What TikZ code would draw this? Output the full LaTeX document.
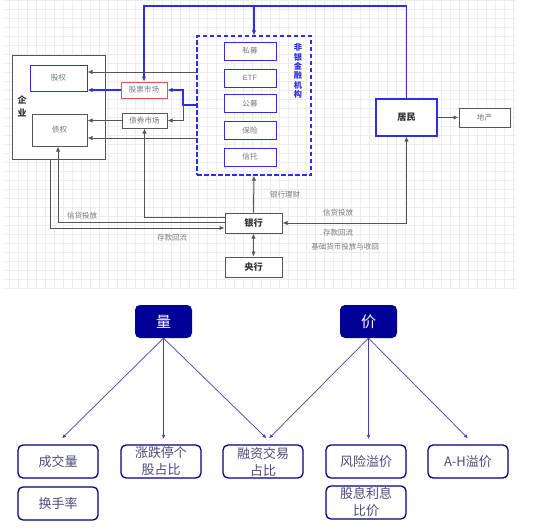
\documentclass[tikz,border=0pt]{standalone}
\usepackage{fontspec}
\setmainfont{Liberation Sans}
\newfontfamily\cjk{Noto Sans CJK SC}
\usetikzlibrary{arrows.meta}
\definecolor{bl}{RGB}{45,45,235}
\definecolor{gl}{RGB}{85,85,85}
\definecolor{navy}{RGB}{0,0,150}
\definecolor{txtg}{RGB}{120,120,120}
\definecolor{redb}{RGB}{238,80,80}
\definecolor{gridc}{RGB}{236,236,236}
\definecolor{leafc}{RGB}{75,75,120}
\tikzset{
 gbox/.style={draw=gl, line width=1pt, fill=white, inner sep=0pt, font=\cjk\fontsize{7.6}{8}\selectfont, text=txtg},
 bbox/.style={gbox, draw=bl},
 gline/.style={draw=gl, line width=1pt, -{Latex[length=5pt,width=4.5pt]}},
 dline/.style={draw=gl, line width=1pt, {Latex[length=5pt,width=4.5pt]}-{Latex[length=5pt,width=4.5pt]}},
 bline/.style={draw=bl, line width=1.1pt, -{Latex[length=5pt,width=4.5pt]}},
 lbl/.style={font=\cjk\fontsize{7.5}{8}\selectfont, text=txtg, inner sep=0pt},
 boldbox/.style={font=\cjk\bfseries\fontsize{9.2}{10}\selectfont, text=black!80},
 topnode/.style={fill=navy, rounded corners=5pt, minimum width=57pt, minimum height=33pt, inner sep=0pt, text=white, font=\cjk\fontsize{15}{16}\selectfont},
 leaf/.style={draw=navy!85!black, line width=1.3pt, rounded corners=5pt, fill=white, minimum width=80pt, minimum height=33pt, inner sep=0pt, text=leafc, align=center, font=\cjk\fontsize{13}{17}\selectfont},
 narrow/.style={draw=navy!75, line width=0.7pt, -{Latex[length=4pt,width=3.5pt]}},
}
\begin{document}
\begin{tikzpicture}[x=1pt,y=-1pt]
\useasboundingbox (0,0) rectangle (550,530);
\fill[white] (0,0) rectangle (550,530);
% grid
\foreach \gx in {9,18,...,513} \draw[gridc, line width=0.4pt] (\gx,0) -- (\gx,288);
\foreach \gy in {0,9,...,288} \draw[gridc, line width=0.4pt] (5,\gy) -- (515,\gy);

% ---------- top diagram nodes ----------
\node[gbox, minimum width=93pt, minimum height=104pt] (qiye) at (58.5,107) {};
\node[align=center, inner sep=0pt, font=\cjk\bfseries\fontsize{9}{13}\selectfont, text=black!80] (qiyelbl) at (22,106.5) {企\\业};
\node[bbox, minimum width=57pt, minimum height=26pt] (guquan) at (58.5,78) {股权};
\node[gbox, minimum width=55pt, minimum height=32pt] (zhaiquan) at (59.5,130) {债权};
\node[gbox, draw=redb, minimum width=46pt, minimum height=16pt] (gupiao) at (144,90) {股票市场};
\node[gbox, minimum width=45pt, minimum height=15pt] (zqsc) at (144.5,120.5) {债券市场};

\node[draw=bl, line width=1.3pt, dash pattern=on 4.5pt off 2.5pt, minimum width=114pt, minimum height=139pt, inner sep=0pt] (nonbank) at (254,105.5) {};
\node[bbox, minimum width=52pt, minimum height=18pt] (simu) at (250,51) {私募};
\node[bbox, minimum width=52pt, minimum height=18pt, font=\fontsize{7.6}{8}\selectfont] (etf) at (250,78) {ETF};
\node[bbox, minimum width=52pt, minimum height=18pt] (gongmu) at (250,103.5) {公募};
\node[bbox, minimum width=52pt, minimum height=18pt] (baoxian) at (250,130.5) {保险};
\node[bbox, minimum width=52pt, minimum height=18pt] (xintuo) at (250,157) {信托};
\node[font=\cjk\bfseries\fontsize{8.2}{9.3}\selectfont, text=bl, align=center, inner sep=0pt] (nbl) at (298,71) {非\\银\\金\\融\\机\\构};

\node[bbox, boldbox, line width=1.2pt, minimum width=61pt, minimum height=37pt] (jumin) at (406.5,117.5) {居民};
\node[gbox, minimum width=51pt, minimum height=19pt] (dichan) at (484.5,117.5) {地产};
\node[gbox, boldbox, minimum width=57pt, minimum height=20pt] (yinhang) at (253.5,223) {银行};
\node[gbox, boldbox, minimum width=57pt, minimum height=20pt] (yanghang) at (253.5,267) {央行};

% ---------- top diagram connectors ----------
\coordinate (topy) at (0,6);
\draw[bline] (jumin.north) -- (jumin.north |- topy) -| (gupiao.north);
\draw[bline] (nonbank.north |- topy) -- (nonbank.north);
\coordinate (r1) at (0,72);
\draw[gline] (nonbank.west |- r1) -- (guquan.east |- r1);
\draw[bline] (gupiao.west) -- (guquan.east |- gupiao.west);
\coordinate (jn) at (183,105);
\draw[bline] (nonbank.west |- jn) -- (jn) |- (gupiao.east);
\draw[gline] (jn) |- (zqsc.east);
\draw[gline] (zqsc.west) -- (zhaiquan.east |- zqsc.west);
\coordinate (r6) at (0,138);
\draw[gline] (nonbank.west |- r6) -- (zhaiquan.east |- r6);
\coordinate (c7) at (0,217);
\draw[gline] (yinhang.west |- c7) -| (zqsc.south);
\coordinate (c8) at (58,222);
\draw[gline] (yinhang.west |- c8) -- (c8) -- (c8 |- zhaiquan.south);
\coordinate (c9) at (50,159);
\coordinate (c9b) at (0,228);
\draw[gline] (c9) |- (yinhang.west |- c9b);
\draw[gline] (yinhang.north) -- (nonbank.south);
\draw[dline] (yinhang.south) -- (yanghang.north);
\draw[dline] (jumin.south) |- (yinhang.east);
\draw[gline] (jumin.east) -- (dichan.west);

\node[lbl] (l1) at (82,216) {信贷投放};
\node[lbl] (l2) at (172,238) {存款回流};
\node[lbl] (l3) at (285,195) {银行理财};
\node[lbl] (l4) at (338,213) {信贷投放};
\node[lbl] (l5) at (338,233) {存款回流};
\node[lbl] (l6) at (345,247) {基础货币投放与收回};

% ---------- bottom diagram ----------
\node[topnode] (liang) at (163.5,321.5) {量};
\node[topnode] (jia) at (368.5,321.5) {价};
\node[leaf] (cjl) at (58,461.5) {成交量};
\node[leaf] (hsl) at (58,503.5) {换手率};
\node[leaf] (zdt) at (161,461.5) {涨跌停个\\股占比};
\node[leaf] (rz) at (263,461.5) {融资交易\\占比};
\node[leaf] (fx) at (366,461.5) {风险溢价};
\node[leaf] (gx) at (366,502.5) {股息利息\\比价};
\node[leaf] (ah) at (468,461.5) {A-H溢价};

\draw[narrow] (liang.south) -- ([xshift=4pt,yshift=6pt]cjl.north);
\draw[narrow] (liang.south) -- (liang.south |- 0,439);
\draw[narrow] (liang.south) -- ([xshift=3.5pt,yshift=6pt]rz.north);
\draw[narrow] (jia.south) -- ([xshift=6pt,yshift=6pt]rz.north);
\draw[narrow] (jia.south) -- (jia.south |- 0,439);
\draw[narrow] (jia.south) -- ([yshift=6pt]ah.north);
\end{tikzpicture}
\end{document}
